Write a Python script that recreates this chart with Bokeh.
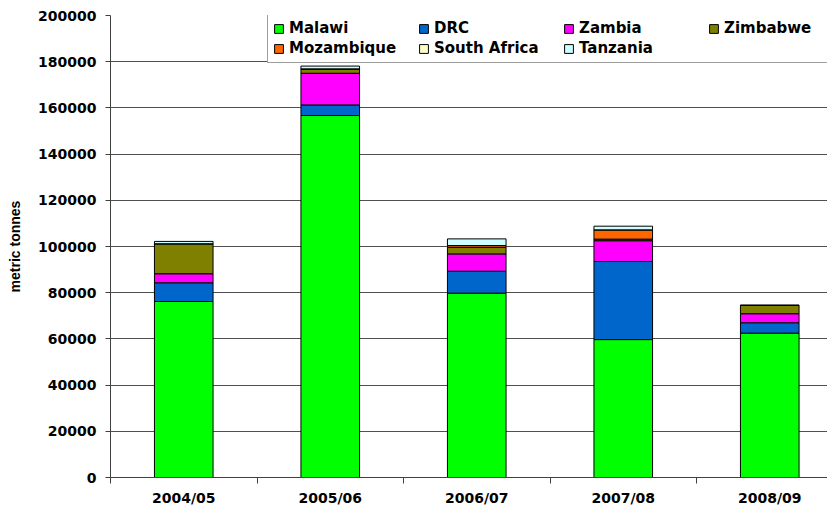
from bokeh.plotting import figure
from bokeh.models import (ColumnDataSource, Range1d, FixedTicker, NumeralTickFormatter,
                          Legend, LegendItem)
from bokeh.embed import file_html
from bokeh.resources import INLINE

years = ["2004/05", "2005/06", "2006/07", "2007/08", "2008/09"]
countries = ["Malawi", "DRC", "Zambia", "Zimbabwe", "Mozambique", "South Africa", "Tanzania"]
malawi = [76200, 156700, 79800, 59700, 62500]
drc = [8100, 4600, 9500, 33800, 4500]
zambia = [3900, 13700, 7500, 9000, 3900]
zimbabwe = [13000, 1900, 2800, 700, 3600]
mozambique = [0, 0, 800, 4000, 0]
south_africa = [0, 0, 0, 0, 0]
tanzania = [1000, 1200, 2900, 1600, 0]
colors = ["#00FF00", "#0066CC", "#FF00FF", "#808000", "#FF6600", "#FFFFCC", "#CCFFFF"]
y_ticks = [0, 20000, 40000, 60000, 80000, 100000, 120000, 140000, 160000, 180000, 200000]

keys = ["malawi", "drc", "zambia", "zimbabwe", "mozambique", "south_africa", "tanzania"]
data = dict(x=list(range(len(years))), malawi=malawi, drc=drc, zambia=zambia,
            zimbabwe=zimbabwe, mozambique=mozambique, south_africa=south_africa,
            tanzania=tanzania)
src = ColumnDataSource(data)

FONT = "DejaVu Sans"
frame_left, frame_right = 110, 827
cat_w = 146.5
x_end = -0.5 + (frame_right - frame_left) / cat_w

p = figure(width=827, height=508, output_backend="svg", toolbar_location=None,
           x_range=Range1d(-0.5, x_end), y_range=Range1d(0, 200000),
           min_border_left=110, min_border_right=0, min_border_top=15,
           min_border_bottom=31)
p.outline_line_color = None
p.background_fill_color = "white"

renderers = p.vbar_stack(keys, x="x", width=0.4, source=src, fill_color=colors,
                         line_color="black", line_width=1)

# axes
p.xaxis.ticker = FixedTicker(ticks=list(range(len(years))),
                             minor_ticks=[i - 0.5 for i in range(len(years) + 1)])
p.xaxis.major_label_overrides = {i: y for i, y in enumerate(years)}
p.xaxis.major_tick_line_color = None
p.xaxis.minor_tick_in = 0
p.xaxis.minor_tick_out = 6
p.xaxis.minor_tick_line_color = "#404040"
p.xaxis.axis_line_color = "#404040"
p.xaxis.major_label_text_font = FONT
p.xaxis.major_label_text_font_style = "bold"
p.xaxis.major_label_text_font_size = "14px"
p.xaxis.major_label_text_color = "black"
p.xaxis.major_label_standoff = 6
p.xgrid.grid_line_color = None

p.yaxis.ticker = FixedTicker(ticks=y_ticks)
p.yaxis.formatter = NumeralTickFormatter(format="0")
p.yaxis.minor_tick_line_color = None
p.yaxis.major_tick_in = 0
p.yaxis.major_tick_out = 5
p.yaxis.major_tick_line_color = "#404040"
p.yaxis.axis_line_color = "#404040"
p.yaxis.major_label_text_font = FONT
p.yaxis.major_label_text_font_style = "bold"
p.yaxis.major_label_text_font_size = "14px"
p.yaxis.major_label_text_color = "black"
p.yaxis.major_label_standoff = 9
p.yaxis.axis_label = "metric tonnes"
p.yaxis.axis_label_text_font = "Liberation Sans"
p.yaxis.axis_label_text_font_style = "bold"
p.yaxis.axis_label_text_font_size = "14px"
p.yaxis.axis_label_text_color = "black"
p.yaxis.axis_label_standoff = 12
p.ygrid.grid_line_color = "#505050"
p.ygrid.grid_line_width = 1

items = [LegendItem(label=c, renderers=[r]) for c, r in zip(countries, renderers)]
legend = Legend(items=items, orientation="horizontal", ncols=4,
                location=(157, 414), glyph_width=11, glyph_height=11,
                label_standoff=5, label_width=127, label_height=18, spacing=2,
                padding=5, margin=0,
                label_text_font=FONT, label_text_font_style="bold",
                label_text_font_size="15px", label_text_color="black",
                border_line_color="#404040",
                border_line_width=1, background_fill_color="white",
                background_fill_alpha=1)
p.add_layout(legend, "center")

open("out.html", "w").write(file_html(p, INLINE))
